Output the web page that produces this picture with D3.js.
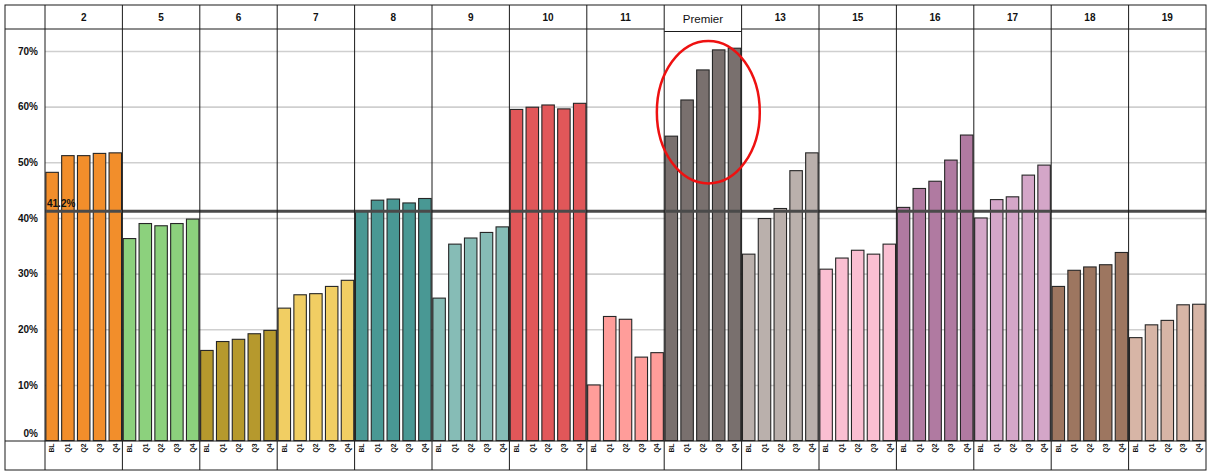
<!DOCTYPE html>
<html>
<head>
<meta charset="utf-8">
<script src="https://cdn.jsdelivr.net/npm/d3@7"></script>
<style>
  html, body { margin: 0; padding: 0; background: #fff; }
  svg { display: block; font-family: "Liberation Sans", Arial, sans-serif; }
</style>
</head>
<body>
<svg id="chart" width="1209" height="472"></svg>
<script>
// Site groups shown as columns, and the reporting periods inside each group
const groupNames = ["2", "5", "6", "7", "8", "9", "10", "11", "Premier", "13", "15", "16", "17", "18", "19"];
const periodLabels = ["BL", "Q1", "Q2", "Q3", "Q4"];

// Percentage per group, one entry per period (BL, Q1..Q4)
const seriesValues = [
  [48.2, 51.2, 51.2, 51.6, 51.7],
  [36.3, 39.0, 38.6, 39.0, 39.8],
  [16.2, 17.8, 18.2, 19.2, 19.8],
  [23.8, 26.2, 26.4, 27.7, 28.8],
  [41.3, 43.2, 43.4, 42.7, 43.5],
  [25.6, 35.3, 36.4, 37.4, 38.4],
  [59.5, 59.9, 60.3, 59.6, 60.6],
  [10.0, 22.3, 21.8, 15.0, 15.8],
  [54.7, 61.2, 66.6, 70.2, 70.5],
  [33.5, 39.9, 41.7, 48.5, 51.7],
  [30.8, 32.8, 34.2, 33.5, 35.3],
  [41.9, 45.3, 46.6, 50.4, 54.9],
  [40.0, 43.3, 43.8, 47.7, 49.5],
  [27.7, 30.6, 31.2, 31.6, 33.8],
  [18.5, 20.8, 21.6, 24.4, 24.5]
];

const groupColors = ["#F28E2B", "#8CD17D", "#B6992D", "#F1CE63", "#499894", "#86BCB6", "#E15759",
  "#FF9D9A", "#79706E", "#BAB0AC", "#FABFD2", "#B07AA1", "#D4A6C8", "#9D7660", "#D7B5A6"];

const yTicks = [0, 10, 20, 30, 40, 50, 60, 70];
const averageValue = 41.2;
const highlightGroup = "Premier";
// value range the highlight ring encloses
const highlightRange = [46.2, 71.8];

const svg = d3.select("#chart");

const frame = { left: 5, top: 5, right: 1206, bottom: 470 };
const plotLeft = 45, headerBottom = 29, baseline = 440.6, bottomRow = 441;

const xGroup = d3.scaleBand().domain(groupNames).range([plotLeft, frame.right]).padding(0);
const xPeriod = d3.scaleBand().domain(periodLabels)
  .range([0, xGroup.bandwidth()]).paddingInner(0.21).paddingOuter(0.055);
const y = d3.scaleLinear().domain([0, 70]).range([baseline, 51]);

// gridlines and percentage labels
const yAxis = svg.append("g")
  .attr("transform", `translate(${plotLeft},0)`)
  .call(d3.axisLeft(y).tickValues(yTicks).tickFormat(d => d + "%")
    .tickSize(-(frame.right - plotLeft)).tickPadding(7));
yAxis.select(".domain").remove();
yAxis.selectAll(".tick line")
  .attr("stroke", d => d === 0 ? "none" : "#cfcfcf").attr("stroke-width", 1.6);
yAxis.selectAll(".tick text")
  .attr("font-size", 10).attr("font-weight", "bold").attr("fill", "#111")
  .attr("font-family", "Liberation Sans, Arial, sans-serif")
  .attr("dy", d => d === 0 ? "-0.4em" : "0.32em");

// bars
const rows = groupNames.map((g, i) => ({ group: g, color: groupColors[i], values: seriesValues[i] }));

const groupSel = svg.append("g").selectAll("g")
  .data(rows).join("g")
  .attr("transform", d => `translate(${xGroup(d.group)},0)`);

groupSel.selectAll("rect")
  .data(d => d.values.map((v, j) => ({ period: periodLabels[j], value: v, color: d.color })))
  .join("rect")
  .attr("x", d => xPeriod(d.period))
  .attr("width", xPeriod.bandwidth())
  .attr("y", d => y(d.value))
  .attr("height", d => y(0) - y(d.value))
  .attr("fill", d => d.color)
  .attr("stroke", "#262626")
  .attr("stroke-width", 1.1);

// period labels under each bar
groupSel.selectAll("text.period")
  .data(d => periodLabels)
  .join("text")
  .attr("class", "period")
  .attr("transform", p => `translate(${xPeriod(p) + xPeriod.bandwidth() / 2 + 2.3},${bottomRow + 2.5}) rotate(-90)`)
  .attr("text-anchor", "end")
  .attr("font-size", 6.8)
  .attr("font-weight", "bold")
  .attr("fill", "#111")
  .text(p => p);

// overall average line
svg.append("line")
  .attr("x1", plotLeft).attr("x2", frame.right)
  .attr("y1", y(averageValue)).attr("y2", y(averageValue))
  .attr("stroke", "#4a4a4a").attr("stroke-width", 3);
svg.append("text")
  .attr("x", plotLeft + 2).attr("y", y(averageValue) - 4.5)
  .attr("font-size", 10).attr("font-weight", "bold").attr("fill", "#111")
  .text(averageValue.toFixed(1) + "%");

// table frame: outer border, column dividers, header and bottom rows
const lines = svg.append("g").attr("stroke", "#1a1a1a").attr("stroke-width", 1).attr("fill", "none");
lines.append("rect")
  .attr("x", frame.left).attr("y", frame.top)
  .attr("width", frame.right - frame.left).attr("height", frame.bottom - frame.top);
lines.selectAll("line.divider")
  .data(groupNames.map(g => xGroup(g)))
  .join("line").attr("class", "divider")
  .attr("x1", d => d).attr("x2", d => d)
  .attr("y1", frame.top).attr("y2", frame.bottom);
lines.append("line")
  .attr("x1", frame.left).attr("x2", plotLeft)
  .attr("y1", headerBottom).attr("y2", headerBottom);
lines.selectAll("line.head")
  .data(groupNames)
  .join("line").attr("class", "head")
  .attr("x1", g => xGroup(g)).attr("x2", g => xGroup(g) + xGroup.bandwidth())
  .attr("y1", g => g === highlightGroup ? headerBottom + 2.5 : headerBottom)
  .attr("y2", g => g === highlightGroup ? headerBottom + 2.5 : headerBottom);
lines.append("line")
  .attr("x1", frame.left).attr("x2", frame.right)
  .attr("y1", bottomRow).attr("y2", bottomRow);

// column headers
svg.append("g").selectAll("text")
  .data(groupNames).join("text")
  .attr("x", g => xGroup(g) + xGroup.bandwidth() / 2)
  .attr("y", g => g === highlightGroup ? 23 : 20.8)
  .attr("text-anchor", "middle")
  .attr("font-size", g => g === highlightGroup ? 11.5 : 10)
  .attr("font-weight", g => g === highlightGroup ? "normal" : "bold")
  .attr("fill", "#111")
  .text(g => g);

// ring around the highlighted group
const hx = xGroup(highlightGroup), hw = xGroup.bandwidth();
svg.append("ellipse")
  .attr("cx", hx + hw * 0.57)
  .attr("cy", (y(highlightRange[0]) + y(highlightRange[1])) / 2)
  .attr("rx", hw * 0.665)
  .attr("ry", (y(highlightRange[0]) - y(highlightRange[1])) / 2)
  .attr("fill", "none")
  .attr("stroke", "#EE1111")
  .attr("stroke-width", 2.5);
</script>
</body>
</html>
